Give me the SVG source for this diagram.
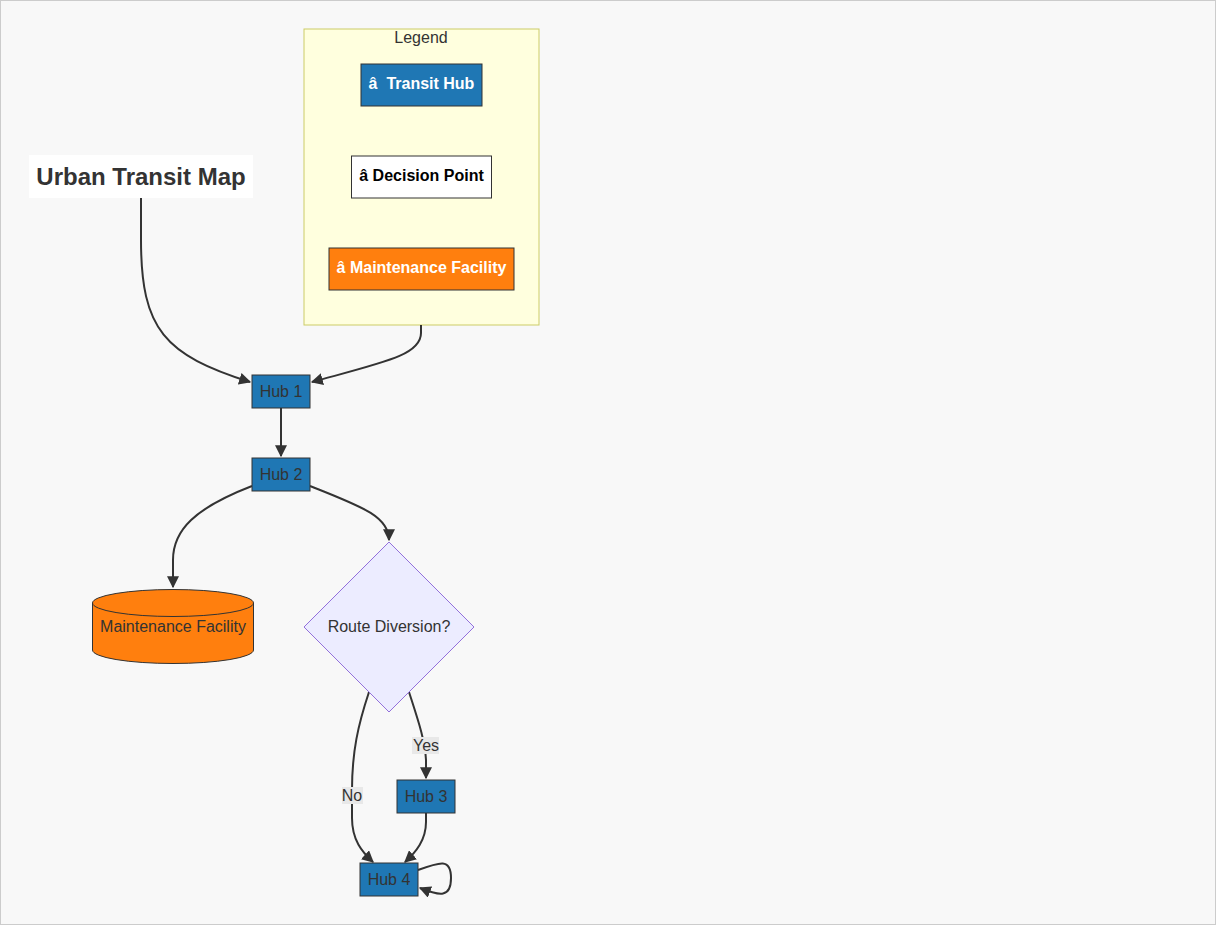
<svg xmlns="http://www.w3.org/2000/svg" width="1216" height="925" viewBox="0 0 1216 925">
  <style>
    .hub { fill: #1f77b4; stroke: #333; stroke-width: 1; }
    .lbl { font-family: "Liberation Sans", Arial, sans-serif; font-size: 16px; fill: #333; text-anchor: middle; dominant-baseline: central; }
    .leg { font-family: "Liberation Sans", Arial, sans-serif; font-size: 16px; font-weight: bold; text-anchor: middle; dominant-baseline: central; white-space: pre; }
    .edge { fill: none; stroke: #333; stroke-width: 2; }
    .elbl { fill: #e8e8e8; }
  </style>
  <defs>
    <marker id="arrow" viewBox="0 0 10 10" refX="9" refY="5" markerWidth="6" markerHeight="6" markerUnits="strokeWidth" orient="auto">
      <path d="M0,0 L10,5 L0,10 z" fill="#333"/>
    </marker>
  </defs>

  <rect x="0.5" y="0.5" width="1215" height="924" fill="#f8f8f8" stroke="#ccc"/>

  <!-- Legend cluster -->
  <g id="legend">
    <rect x="304" y="29" width="235" height="296" fill="#ffffde" stroke="#cccc66" stroke-width="1"/>
    <text x="421" y="37" class="lbl">Legend</text>
    <g id="legend-hub">
      <rect x="361" y="64" width="121" height="42" class="hub"/>
      <text x="421.5" y="83.5" class="leg" fill="#fff" xml:space="preserve">â  Transit Hub</text>
    </g>
    <g id="legend-decision">
      <rect x="351.5" y="156" width="140" height="42" fill="#fff" stroke="#333"/>
      <text x="421.5" y="175.5" class="leg" fill="#000">â Decision Point</text>
    </g>
    <g id="legend-maint">
      <rect x="329" y="248" width="185" height="42" fill="#ff7f0e" stroke="#333"/>
      <text x="421.5" y="267.5" class="leg" fill="#fff">â Maintenance Facility</text>
    </g>
  </g>

  <!-- Connectors -->
  <g id="edges">
    <path class="edge" d="M141,198 L141,240 C141,330 165,355 250,382" marker-end="url(#arrow)"/>
    <path class="edge" d="M421,325 L421,333 C421,355 385,362 312,382" marker-end="url(#arrow)"/>
    <path class="edge" d="M281,408 L281,456" marker-end="url(#arrow)"/>
    <path class="edge" d="M252,486 C195,508 173,530 173,560 L173,587" marker-end="url(#arrow)"/>
    <path class="edge" d="M310,486 C360,506 389,516 389,540" marker-end="url(#arrow)"/>
    <path class="edge" d="M409,692 C418,720 425,740 426,760 L426,778" marker-end="url(#arrow)"/>
    <path class="edge" d="M369,692 C358,725 352,752 352,790 L352,818 C352,840 362,852 373,862" marker-end="url(#arrow)"/>
    <path class="edge" d="M426,813 L426,822 C426,840 416,852 405,862" marker-end="url(#arrow)"/>
    <path class="edge" d="M418,870 C440,862 451,858 451,878 C451,898 440,896 420,888" marker-end="url(#arrow)"/>
    <rect class="elbl" x="412" y="737" width="27" height="17"/>
    <text x="426" y="745" class="lbl">Yes</text>
    <rect class="elbl" x="342" y="787" width="21" height="17"/>
    <text x="352" y="795" class="lbl">No</text>
  </g>

  <!-- Title -->
  <g id="title">
    <rect x="29" y="155" width="224" height="43" fill="#fff"/>
    <text x="141" y="176.5" class="lbl" style="font-size:24px;font-weight:bold">Urban Transit Map</text>
  </g>

  <g id="hub1">
    <rect x="252" y="375" width="58" height="33" class="hub"/>
    <text x="281" y="391" class="lbl">Hub 1</text>
  </g>
  <g id="hub2">
    <rect x="252" y="458" width="58" height="33" class="hub"/>
    <text x="281" y="474" class="lbl">Hub 2</text>
  </g>
  <g id="maintenance">
    <path d="M92.5,603 A80.5,13.5 0 0 1 253.5,603 L253.5,650 A80.5,13.5 0 0 1 92.5,650 Z" fill="#ff7f0e" stroke="#333"/>
    <path d="M92.5,603 A80.5,13.5 0 0 0 253.5,603" fill="none" stroke="#333"/>
    <text x="173" y="626.5" class="lbl">Maintenance Facility</text>
  </g>
  <g id="diversion">
    <polygon points="389,542 474,627 389,712 304,627" fill="#ececff" stroke="#9370db"/>
    <text x="389" y="626.5" class="lbl">Route Diversion?</text>
  </g>
  <g id="hub3">
    <rect x="397" y="780" width="58" height="33" class="hub"/>
    <text x="426" y="796" class="lbl">Hub 3</text>
  </g>
  <g id="hub4">
    <rect x="360" y="863" width="58" height="33" class="hub"/>
    <text x="389" y="879" class="lbl">Hub 4</text>
  </g>
</svg>
